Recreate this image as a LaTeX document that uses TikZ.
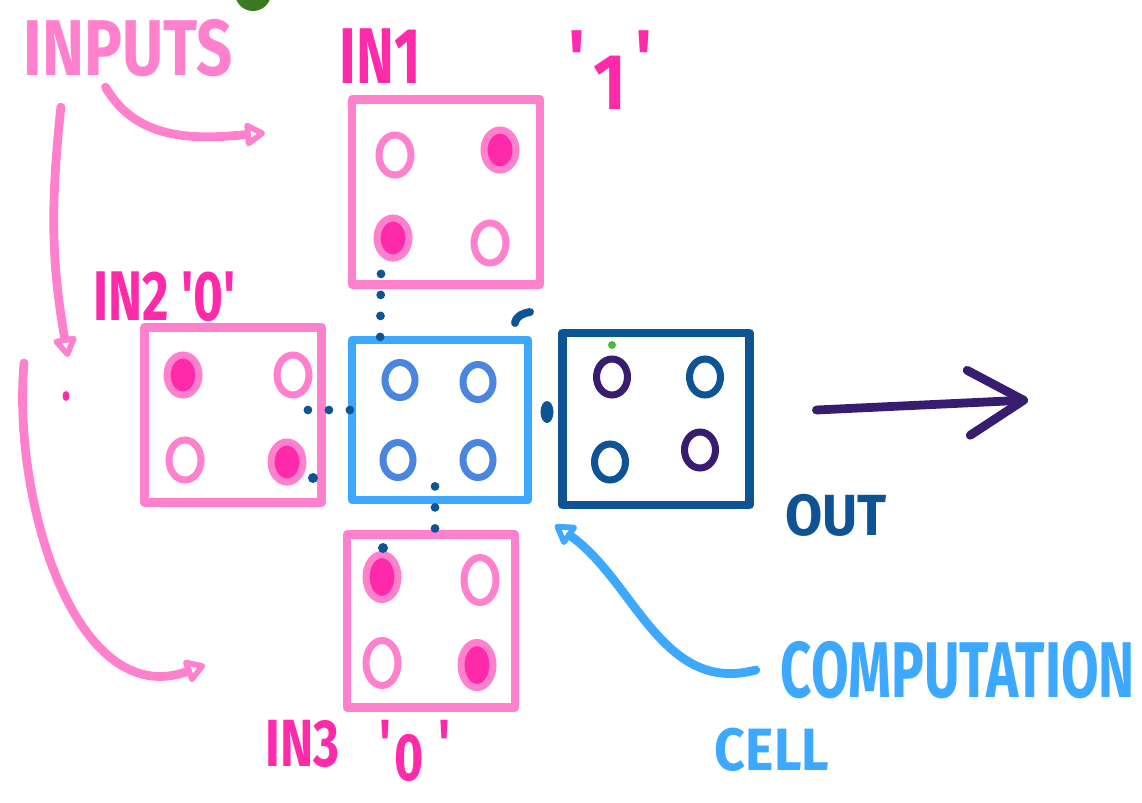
\documentclass[tikz,border=0pt]{standalone}
\usepackage{fontspec}
\setmainfont{Fira Sans}
\usetikzlibrary{shapes, arrows.meta, calc, positioning}

\definecolor{inkpink}{HTML}{FF80CC}
\definecolor{hotpink}{HTML}{FF2AAA}
\definecolor{cellblue}{HTML}{3DA8FF}
\definecolor{midblue}{HTML}{4A86E0}
\definecolor{navy}{HTML}{0E5495}
\definecolor{inkpurple}{HTML}{371C70}
\definecolor{leafgreen}{HTML}{3B7A20}
\definecolor{dotgreen}{HTML}{4CBB3A}

\begin{document}
\begin{tikzpicture}[
			inbox/.style={draw=inkpink, rectangle, line width=5pt, line join=round},
			cellbox/.style={draw=cellblue, rectangle, line width=5pt, line join=round},
			outbox/.style={draw=navy, rectangle, line width=5pt, line join=round},
			bit/.style={draw=inkpink, ellipse, line width=4pt, minimum width=0.64cm, minimum height=0.8cm, inner sep=0pt},
			onbit/.style={bit, fill=hotpink},
			cellbit/.style={bit, draw=midblue, minimum width=0.6cm, minimum height=0.7cm},
			outbit/.style={bit, draw=navy, minimum width=0.62cm, minimum height=0.72cm},
			handtext/.style={font=\bfseries\fontsize{45}{45}\selectfont, inner sep=0pt},
			pinkarrow/.style={-{Triangle[open, round, length=13pt, width=15pt]}, draw=inkpink, line width=5pt, line cap=round},
			dotlink/.style={draw=navy, line width=5pt, line cap=round, dash pattern=on 0pt off 0.42cm}
			]
			\useasboundingbox (0,0) rectangle (22.84,-16.04);
			\fill[leafgreen] (5.06,0.14) circle (0.36);
			
			% Labels
			\node[handtext, text=inkpink, xscale=0.8] (inputs) at (2.56,-0.96) {INPUTS};
			\node[handtext, text=hotpink, xscale=0.72] (in1label) at (7.60,-1.12) {IN1};
			\node[handtext, text=hotpink, xscale=0.9] (in1value) at (12.20,-1.40) {\textquotesingle\hspace{0.12em}\raisebox{-0.3em}{1}\hspace{0.12em}\textquotesingle};
			\node[handtext, text=hotpink, xscale=0.73, font=\bfseries\fontsize{40}{40}\selectfont] (in2label) at (3.30,-5.94) {IN2 \textquotesingle0\textquotesingle};
			\node[handtext, text=hotpink, xscale=0.75, font=\bfseries\fontsize{38}{38}\selectfont] (in3label) at (7.16,-15.02) {IN3\hspace{0.8em}\textquotesingle\hspace{0.05em}\raisebox{-0.2em}{0}\hspace{0.3em}\textquotesingle};
			\node[handtext, text=navy, xscale=0.93, font=\bfseries\fontsize{33}{33}\selectfont] (outlabel) at (16.72,-10.30) {OUT};
			\node[handtext, text=cellblue, xscale=0.69] (compu) at (19.16,-13.40) {COMPUTATION};
			\node[handtext, text=cellblue, xscale=0.9, font=\bfseries\fontsize{34}{34}\selectfont] (celllabel) at (15.44,-15.00) {CELL};
			
			% Cells
			\node[inbox, minimum width=3.76cm, minimum height=3.7cm] (in1) at (8.92,-3.84) {};
			\node[inbox, minimum width=3.54cm, minimum height=3.5cm] (in2) at (4.66,-8.30) {};
			\node[cellbox, minimum width=3.52cm, minimum height=3.2cm] (cell) at (8.80,-8.40) {};
			\node[outbox, minimum width=3.74cm, minimum height=3.44cm] (out) at (13.12,-8.38) {};
			\node[inbox, minimum width=3.36cm, minimum height=3.46cm] (in3) at (8.62,-12.42) {};
			
			% Bits
			\node[bit] (in1a) at (7.90,-3.10) {};
			\node[onbit] (in1b) at (10.00,-3.00) {};
			\node[onbit] (in1c) at (7.86,-4.76) {};
			\node[bit] (in1d) at (9.80,-4.86) {};
			\node[onbit] (in2a) at (3.66,-7.50) {};
			\node[bit] (in2b) at (5.86,-7.50) {};
			\node[bit] (in2c) at (3.70,-9.20) {};
			\node[onbit] (in2d) at (5.74,-9.24) {};
			\node[cellbit] (cella) at (8.00,-7.60) {};
			\node[cellbit] (cellb) at (9.56,-7.64) {};
			\node[cellbit] (cellc) at (7.96,-9.20) {};
			\node[cellbit] (celld) at (9.56,-9.20) {};
			\node[outbit, draw=inkpurple] (outa) at (12.24,-7.54) {};
			\node[outbit] (outb) at (14.10,-7.54) {};
			\node[outbit] (outc) at (12.20,-9.24) {};
			\node[outbit, draw=inkpurple] (outd) at (14.00,-9.00) {};
			\node[onbit, minimum height=0.9cm] (in3a) at (7.64,-11.54) {};
			\node[bit, minimum height=0.9cm] (in3b) at (9.60,-11.60) {};
			\node[bit, minimum height=0.9cm] (in3c) at (7.64,-13.26) {};
			\node[onbit, minimum height=0.9cm] (in3d) at (9.54,-13.30) {};
			
			% Arrows
			\coordinate (in1head) at (5.30,-2.66);
			\coordinate (in2head) at (1.36,-7.14);
			\coordinate (in3tail) at (0.48,-7.26);
			\coordinate (in3head) at (4.10,-13.30);
			\coordinate (outhead) at (20.56,-8.00);
			\coordinate (cellhead) at (11.10,-10.50);
			\draw[pinkarrow] ([xshift=-0.45cm,yshift=-0.2cm]inputs.south) to[out=-60, in=185] (in1head);
			\draw[pinkarrow] ([xshift=0.75cm,yshift=-0.6cm]inputs.south west) to[out=-96, in=100] (in2head);
			\draw[pinkarrow] (in3tail) to[out=-95, in=200] (in3head);
			\draw[-{Straight Barb[length=1.1cm, width=1.3cm, round]}, draw=inkpurple, line width=5pt, line cap=round] ([xshift=1.25cm,yshift=0.18cm]out.east) -- (outhead);
			\draw[pinkarrow, draw=cellblue] ([xshift=-0.5cm]compu.west) to[out=195, in=-35] (cellhead);
			
			% Dotted links
			\draw[dotlink] ([xshift=-1.3cm,yshift=0.3cm]in1.south) -- ([xshift=-1.2cm,yshift=-0.3cm]cell.north);
			\draw[dotlink] ([xshift=-0.36cm,yshift=0.1cm]in2.east) -- ([xshift=0.26cm,yshift=0.2cm]cell.west);
			\draw[dotlink] ([xshift=-0.1cm,yshift=0.36cm]cell.south) -- ([xshift=0.08cm,yshift=-0.2cm]in3.north);
			
			% Marks
			\fill[hotpink] (1.32,-7.92) ellipse (0.07 and 0.1);
			\fill[navy] (6.26,-9.56) circle (0.1);
			\fill[navy] (7.66,-10.96) circle (0.1);
			\fill[navy] (10.94,-8.24) ellipse (0.13 and 0.22);
			\draw[navy, line width=4.5pt, line cap=round] (10.30,-6.46) to[out=80, in=190] (10.60,-6.24);
			\fill[dotgreen] (12.24,-6.90) circle (0.08);
		\end{tikzpicture}
\end{document}
